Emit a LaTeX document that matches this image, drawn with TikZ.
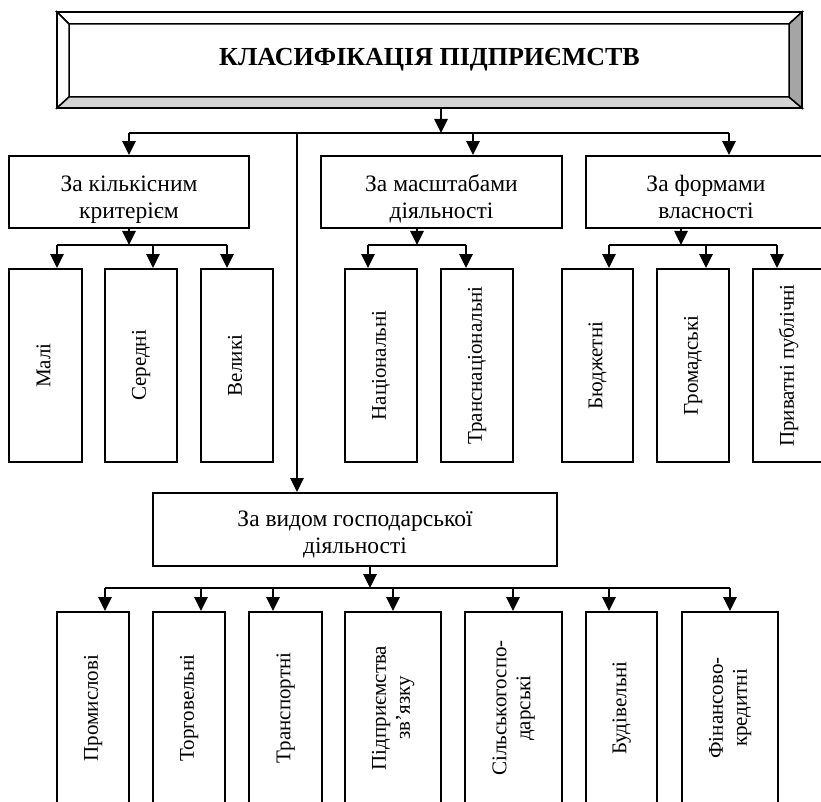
\documentclass[tikz,border=0pt]{standalone}
\usepackage{fontspec}
\usepackage{graphicx}
\setmainfont{Liberation Serif}
\usetikzlibrary{arrows.meta}
\definecolor{bevlight}{RGB}{212,212,212}
\definecolor{bevdark}{RGB}{165,165,165}
\newcommand{\vt}[1]{\rotatebox{90}{\fontsize{21}{24}\selectfont\begin{tabular}{@{}c@{}}#1\end{tabular}}}
\newcommand{\hl}[2]{\raisebox{-#1}[\height][\depth]{\begin{tabular}{@{}c@{}}#2\end{tabular}}}
\begin{document}
\begin{tikzpicture}[x=1pt,y=-1pt,
  hbox/.style={draw, line width=1.8pt, inner sep=0pt,
    font=\fontsize{23.5}{27}\selectfont, minimum height=72pt},
  vbox/.style={draw, line width=1.8pt, inner sep=0pt, minimum width=72pt},
  ln/.style={line width=2.6pt},
  arr/.style={line width=2.6pt, -{Triangle[length=14pt,width=13pt]}},
  bev/.style={draw, line width=1.5pt, line join=miter}
]
\useasboundingbox (0,0) rectangle (821,802);

% title with bevel
\fill[white] (57,12) rectangle (802,108);
\filldraw[bev, fill=white] (57,12) -- (802,12) -- (789,24) -- (69,24) -- cycle;
\filldraw[bev, fill=white] (57,12) -- (69,24) -- (69,97) -- (57,108) -- cycle;
\filldraw[bev, fill=bevlight] (57,108) -- (69,97) -- (789,97) -- (802,108) -- cycle;
\filldraw[bev, fill=bevdark] (802,12) -- (802,108) -- (789,97) -- (789,24) -- cycle;
\node[draw, line width=1.8pt, minimum width=745pt, minimum height=96pt, inner sep=0pt,
  font=\fontsize{26}{30}\selectfont\bfseries] (title) at (429.5,60) {КЛАСИФІКАЦІЯ ПІДПРИЄМСТВ};

% first level
\node[hbox, minimum width=240pt] (k) at (129,192) {\hl{8pt}{За кількісним\\критерієм}};
\node[hbox, minimum width=241pt] (m) at (441.5,192) {\hl{8pt}{За масштабами\\діяльності}};
\node[hbox, minimum width=240pt] (f) at (706,192) {\hl{8pt}{За формами\\власності}};
\node[hbox, minimum width=404pt, minimum height=73pt] (g) at (355,529.5) {\hl{5pt}{За видом господарської\\діяльності}};

% second level (top)
\begin{scope}[every node/.style={vbox, minimum height=193pt}]
\node[minimum width=73pt] (mal) at (45.5,365.5) {\vt{Малі}};
\node (ser) at (141,365.5) {\vt{Середні}};
\node (vel) at (237,365.5) {\vt{Великі}};
\node (nat) at (381,365.5) {\vt{Національні}};
\node (trn) at (477,365.5) {\vt{Транснаціональні}};
\node[minimum width=71pt] (bud) at (597.5,365.5) {\vt{Бюджетні}};
\node (hrom) at (693,365.5) {\vt{Громадські}};
\node (pryv) at (789,365.5) {\vt{Приватні публічні}};
\end{scope}

% bottom level
\begin{scope}[every node/.style={vbox, minimum height=192pt}]
\node (prom) at (93,708) {\vt{Промислові}};
\node (torh) at (189,708) {\vt{Торговельні}};
\node[minimum width=73pt] (trans) at (285.5,708) {\vt{Транспортні}};
\node[minimum width=96pt] (zv) at (393,708) {\vt{Підприємства\\зв’язку}};
\node[minimum width=97pt] (silsk) at (513.5,708) {\vt{Сільськогоспо-\\дарські}};
\node[minimum width=71pt] (budiv) at (621.5,708) {\vt{Будівельні}};
\node[minimum width=96pt] (fin) at (730,708) {\vt{Фінансово-\\кредитні}};
\end{scope}

% connectors: title level
\coordinate (t0) at (441,133);
\coordinate (b1) at (129,133);
\coordinate (bv) at (297,133);
\coordinate (bm) at (473,133);
\coordinate (b3) at (729,133);
\draw[arr] (title.south -| t0) -- (t0);
\draw[ln] (b1) -- (b3);
\draw[arr] (b1) -- (b1 |- k.north);
\draw[arr] (bm) -- (bm |- m.north);
\draw[arr] (b3) -- (b3 |- f.north);
\draw[arr] (bv) -- (bv |- g.north);

% k group
\coordinate (k0) at (129,245);
\coordinate (k1) at (57,245);
\coordinate (k2) at (153,245);
\coordinate (k3) at (227,245);
\draw[arr] (k.south -| k0) -- (k0);
\draw[ln] (k1) -- (k3);
\draw[arr] (k1) -- (k1 |- mal.north);
\draw[arr] (k2) -- (k2 |- ser.north);
\draw[arr] (k3) -- (k3 |- vel.north);

% m group
\coordinate (m0) at (417,245);
\coordinate (m1) at (368,245);
\coordinate (m2) at (466,245);
\draw[arr] (m.south -| m0) -- (m0);
\draw[ln] (m1) -- (m2);
\draw[arr] (m1) -- (m1 |- nat.north);
\draw[arr] (m2) -- (m2 |- trn.north);

% f group
\coordinate (f0) at (681,245);
\coordinate (f1) at (609,245);
\coordinate (f2) at (706,245);
\coordinate (f3) at (777,245);
\draw[arr] (f.south -| f0) -- (f0);
\draw[ln] (f1) -- (f3);
\draw[arr] (f1) -- (f1 |- bud.north);
\draw[arr] (f2) -- (f2 |- hrom.north);
\draw[arr] (f3) -- (f3 |- pryv.north);

% g group
\coordinate (g0) at (370,588);
\coordinate (g1) at (105,588);
\coordinate (g2) at (201,588);
\coordinate (g3) at (273,588);
\coordinate (g4) at (393,588);
\coordinate (g5) at (513,588);
\coordinate (g6) at (609,588);
\coordinate (g7) at (730,588);
\draw[arr] (g.south -| g0) -- (g0);
\draw[ln] (g1) -- (g7);
\draw[arr] (g1) -- (g1 |- prom.north);
\draw[arr] (g2) -- (g2 |- torh.north);
\draw[arr] (g3) -- (g3 |- trans.north);
\draw[arr] (g4) -- (g4 |- zv.north);
\draw[arr] (g5) -- (g5 |- silsk.north);
\draw[arr] (g6) -- (g6 |- budiv.north);
\draw[arr] (g7) -- (g7 |- fin.north);
\end{tikzpicture}
\end{document}
